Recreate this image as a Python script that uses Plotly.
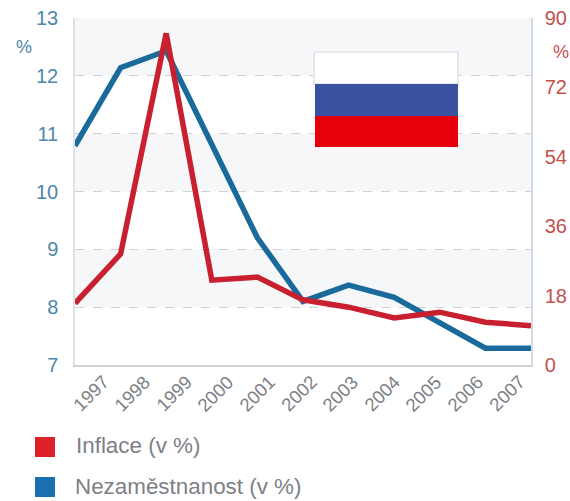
import plotly.graph_objects as go

years = [1997, 1998, 1999, 2000, 2001, 2002, 2003, 2004, 2005, 2006, 2007]
unemployment = [10.79, 12.14, 12.43, 10.83, 9.2, 8.1, 8.38, 8.17, 7.74, 7.29, 7.29]
inflation = [16, 28.8, 86, 22, 22.8, 16.9, 15, 12.2, 13.7, 11.1, 10.2]

left_ticks = [7, 8, 9, 10, 11, 12, 13]
right_ticks = [0, 18, 36, 54, 72, 90]
shaded_bands = [(12, 13), (10, 11), (8, 9)]

WIDTH, HEIGHT = 570, 501
BLUE = "#1b6a9c"
RED = "#c9202f"
BLUE_TEXT = "#4d87a9"
RED_TEXT = "#c4504c"
GREY_TEXT = "#7d8185"
FONT = "Liberation Sans"

fig = go.Figure()
fig.add_trace(go.Scatter(
    x=years, y=unemployment, mode="lines", name="Nezaměstnanost (v %)",
    line=dict(color=BLUE, width=5.5), yaxis="y",
))
fig.add_trace(go.Scatter(
    x=years, y=inflation, mode="lines", name="Inflace (v %)",
    line=dict(color=RED, width=5.5), yaxis="y2",
))

shapes = []
for lo, hi in shaded_bands:
    shapes.append(dict(type="rect", xref="paper", yref="y", x0=0, x1=1, y0=lo, y1=hi,
                       fillcolor="#f5f7f9", line_width=0, layer="below"))

# Tricolour panel placed in the upper right of the plot
def px_rect(x0, x1, y0, y1, color, layer="above", line=None):
    return dict(type="rect", xref="paper", yref="paper",
                x0=(x0 - 75) / 456, x1=(x1 - 75) / 456,
                y0=(365 - y1) / 347, y1=(365 - y0) / 347,
                fillcolor=color, layer=layer,
                line=line or dict(width=0))

shapes += [
    px_rect(314, 458, 52, 84, "#ffffff", line=dict(color="#dfe2e8", width=1.5)),
    px_rect(315, 458, 84, 116, "#3a53a0"),
    px_rect(315, 458, 116, 147, "#e60009"),
]

# Legend swatches sit below the axis, outside the plot area
shapes += [
    px_rect(35, 55, 437, 457, "#dc2128"),
    px_rect(35, 55, 477, 497, "#1a6fae"),
]

def px_text(x, y, text, color, size, anchor="left", angle=0):
    return dict(xref="paper", yref="paper", x=(x - 75) / 456, y=(365 - y) / 347,
                text=text, showarrow=False, xanchor=anchor, yanchor="middle",
                textangle=angle,
                font=dict(family=FONT, color=color, size=size))

annotations = [
    px_text(24, 47, "%", BLUE_TEXT, 18, "center"),
    px_text(561, 52, "%", RED_TEXT, 18, "center"),
    px_text(74, 446, "Inflace (v %)", GREY_TEXT, 22.4),
    px_text(73, 486, "Nezaměstnanost (v %)", GREY_TEXT, 22.4),
]

# Year labels run on a slightly tighter pitch than the data points
for i, year in enumerate(years):
    annotations.append(px_text(91 + 41.6 * i, 394, str(year), GREY_TEXT, 18.5, "center", -45))

fig.update_layout(
    width=WIDTH, height=HEIGHT,
    margin=dict(l=75, r=39, t=18, b=136, autoexpand=False),
    paper_bgcolor="#ffffff", plot_bgcolor="#ffffff",
    showlegend=False,
    shapes=shapes, annotations=annotations,
    font=dict(family=FONT),
    xaxis=dict(
        range=[1997, 2007], tickmode="array", tickvals=years,
        showticklabels=False, ticks="",
        showgrid=False, showline=True, linecolor="#cfd3da", linewidth=1.5, zeroline=False,
    ),
    yaxis=dict(
        range=[7, 13], tickmode="array", tickvals=left_ticks, ticks="",
        ticklabelstandoff=11,
        tickfont=dict(color=BLUE_TEXT, size=20, family=FONT),
        showgrid=True, gridcolor="#cfd1d4", griddash="dash", gridwidth=1,
        showline=True, linecolor="#dfe2e8", linewidth=1.5, zeroline=False,
    ),
    yaxis2=dict(
        range=[0, 90], tickmode="array", tickvals=right_ticks, ticks="",
        overlaying="y", side="right", ticklabelstandoff=8,
        tickfont=dict(color=RED_TEXT, size=20, family=FONT),
        showgrid=False, showline=True, linecolor="#cfdbe6", linewidth=1.5, zeroline=False,
    ),
)

fig.write_html("out.html")
